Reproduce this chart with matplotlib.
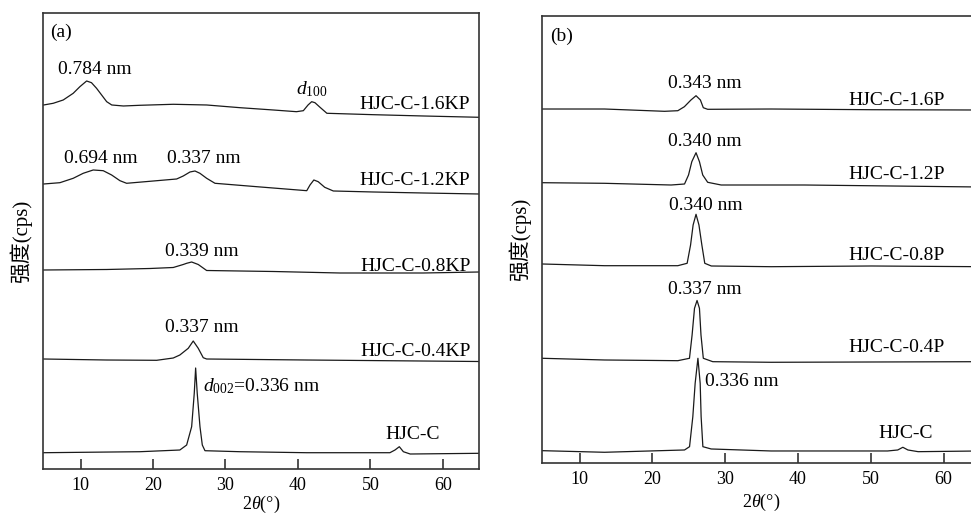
import matplotlib
matplotlib.use("Agg")
import matplotlib.pyplot as plt

# XRD patterns, intensity in arbitrary units (curves already stacked with offsets)

# panel (a)
a_16kp_x = [4.9, 6.22, 7.6, 8.98, 9.9, 10.83, 11.5, 12.2, 12.9, 13.6, 14.3, 15.9, 18.2, 22.8, 27.4, 32.0, 36.6,
            39.8, 40.75, 41.4, 41.9, 42.35, 43.05, 44.0, 50.4, 57.3, 65.0]
a_16kp_y = [364, 365.7, 369, 375.7, 382.3, 388, 386.3, 380.7, 374, 367.3, 364, 363, 363.7, 364.7, 364, 361.3, 359,
            357.3, 358.3, 364, 367.3, 366.3, 361.7, 355.7, 354.3, 353, 351.7]

a_12kp_x = [4.9, 7.14, 8.98, 10.36, 11.74, 13.12, 14.28, 15.43, 16.35, 19.57, 23.26, 24.17, 25.1, 25.79, 26.47,
            27.4, 28.55, 34.31, 41.22, 41.67, 42.2, 42.8, 43.7, 44.89, 50.41, 57.32, 65.0]
a_12kp_y = [285, 286.3, 290.7, 295.7, 299, 298.3, 294, 288.3, 285.7, 287.7, 290, 293, 297, 298, 295.7,
            290.7, 285.7, 282.3, 278.3, 284, 289, 287.3, 281.7, 278, 277, 276, 275]

a_08kp_x = [4.9, 13.6, 19.57, 22.79, 24.17, 24.64, 25.33, 26.24, 27.4, 36.6, 45.8, 57.3, 65.0]
a_08kp_y = [199, 199.5, 200.5, 201.5, 204.5, 205.7, 207, 204.5, 198.5, 197.5, 196, 196, 197]

a_04kp_x = [4.9, 13.6, 20.5, 22.79, 23.7, 24.86, 25.55, 26.24, 26.93, 27.4, 41.2, 65.0]
a_04kp_y = [110, 109, 108.7, 111, 114, 120.7, 128, 120.7, 111.3, 110, 109, 107.5]

a_c_x = [4.9, 18.19, 23.7, 24.64, 25.33, 25.69, 25.88, 26.1, 26.48, 26.8, 27.17, 32.0, 41.2, 52.7, 53.4, 54.0, 54.56, 55.5, 65.0]
a_c_y = [16.3, 17.3, 19, 24, 42.3, 75.7, 101, 75.7, 42.3, 24, 18.3, 17.3, 16.3, 16.3, 19, 22.3, 17.3, 15, 15.7]

# panel (b)
b_16p_x = [4.9, 13.43, 21.68, 23.5, 24.4, 25.3, 26.0, 26.6, 27.0, 27.6, 36.3, 50.1, 65.0]
b_16p_y = [353.7, 353.7, 351.4, 352, 356, 362.7, 367, 362.7, 355, 353.4, 353.7, 353, 352.7]

b_12p_x = [4.9, 13.43, 22.58, 24.42, 24.97, 25.42, 26.0, 26.47, 26.92, 27.6, 29.45, 40.9, 65.0]
b_12p_y = [280, 279.4, 277.7, 278.7, 287.7, 301, 310, 301, 287.7, 280.4, 277.7, 277.7, 275.7]

b_08p_x = [4.9, 13.43, 23.5, 24.78, 25.25, 25.6, 26.0, 26.4, 26.8, 27.2, 28.1, 36.3, 50.1, 65.0]
b_08p_y = [198.7, 197, 197, 199.4, 217.7, 237.7, 248.4, 237.7, 217.7, 199.4, 196.7, 196, 196.7, 196]

b_04p_x = [4.9, 13.43, 23.5, 25.1, 25.46, 25.79, 26.14, 26.47, 26.68, 27.0, 28.3, 36.3, 65.0]
b_04p_y = [104.4, 102.7, 102, 104.4, 127.7, 154.4, 162.2, 154.4, 127.7, 104.4, 101, 100.4, 101]

b_c_x = [4.9, 13.43, 24.42, 25.11, 25.56, 25.88, 26.26, 26.57, 26.7, 26.94, 28.08, 36.3, 52.3, 53.7, 54.4, 55.1, 56.5, 65.0]
b_c_y = [12, 10.4, 12.7, 16, 46, 79.4, 104.4, 79.4, 46, 16, 13.7, 11.7, 11.7, 12.7, 15.4, 12.7, 11, 11.7]

# sample names and their label heights
a_names = ["HJC-C-1.6KP", "HJC-C-1.2KP", "HJC-C-0.8KP", "HJC-C-0.4KP"]
a_name_y = [364, 288, 202.5, 118]
b_names = ["HJC-C-1.6P", "HJC-C-1.2P", "HJC-C-0.8P", "HJC-C-0.4P"]
b_name_y = [362.7, 288.7, 206.7, 114.7]

# peak labels: text, x, y
a_peaks = [("0.784 nm", 11.98, 399), ("0.694 nm", 12.8, 310), ("0.337 nm", 27.06, 310),
           ("0.339 nm", 26.8, 217), ("0.337 nm", 26.8, 142)]
b_peaks = [("0.343 nm", 27.14, 379.7), ("0.340 nm", 27.14, 321.7), ("0.340 nm", 27.28, 256.7),
           ("0.337 nm", 27.2, 173.2)]

xticks = [10, 20, 30, 40, 50, 60]

LINE = "#1a1a1a"
SERIF = "Liberation Serif"
FS = 14

plt.rcParams["font.family"] = [SERIF, "Noto Sans CJK SC"]
plt.rcParams["mathtext.fontset"] = "custom"
plt.rcParams["mathtext.rm"] = SERIF
plt.rcParams["mathtext.it"] = SERIF + ":italic"


def setup_axes(ax, ytop, xpad):
    ax.set_xlim(4.85, 65.0)
    ax.set_ylim(0, ytop)
    ax.set_xticks(xticks)
    ax.set_yticks([])
    ax.tick_params(axis="x", direction="in", length=7, width=1.2, color="#333333",
                   labelsize=13, pad=6)
    for sp in ax.spines.values():
        sp.set_linewidth(1.2)
        sp.set_color("#333333")
    ax.set_xlabel("2$\\it{\\theta}$(°)", fontsize=13, labelpad=xpad)
    ax.set_ylabel("强度(cps)", fontsize=15, family=[SERIF, "Noto Sans CJK SC"], labelpad=8)


def main():
    fig = plt.figure(figsize=(9.71, 5.15), dpi=100)
    ax_a = fig.add_axes([0.0446, 0.0893, 0.4487, 0.8855])
    ax_b = fig.add_axes([0.5582, 0.1016, 0.4511, 0.8673])

    # (a)
    for x, y in [(a_16kp_x, a_16kp_y), (a_12kp_x, a_12kp_y), (a_08kp_x, a_08kp_y),
                 (a_04kp_x, a_04kp_y), (a_c_x, a_c_y)]:
        ax_a.plot(x, y, color=LINE, lw=0.9)
    setup_axes(ax_a, 456, 0)
    ax_a.text(0.015, 0.958, "(a)", transform=ax_a.transAxes, fontsize=FS, va="center")
    for name, y in zip(a_names, a_name_y):
        ax_a.text(63.8, y, name, fontsize=FS, ha="right", va="center")
    for txt, x, y in a_peaks:
        ax_a.text(x, y, txt, fontsize=FS, ha="center", va="center")
    ax_a.text(41.9, 380, "$\\mathit{d}_{100}$", fontsize=FS, ha="center", va="center")
    ax_a.text(26.9, 83, "$\\mathit{d}_{002}$=0.336 nm", fontsize=FS, ha="left", va="center")
    ax_a.text(55.8, 35, "HJC-C", fontsize=FS, ha="center", va="center")

    # (b)
    for x, y in [(b_16p_x, b_16p_y), (b_12p_x, b_12p_y), (b_08p_x, b_08p_y),
                 (b_04p_x, b_04p_y), (b_c_x, b_c_y)]:
        ax_b.plot(x, y, color=LINE, lw=0.9)
    setup_axes(ax_b, 446.7, 3)
    ax_b.text(0.018, 0.955, "(b)", transform=ax_b.transAxes, fontsize=FS, va="center")
    for name, y in zip(b_names, b_name_y):
        ax_b.text(60.2, y, name, fontsize=FS, ha="right", va="center")
    for txt, x, y in b_peaks:
        ax_b.text(x, y, txt, fontsize=FS, ha="center", va="center")
    ax_b.text(27.17, 80.7, "0.336 nm", fontsize=FS, ha="left", va="center")
    ax_b.text(54.75, 28.7, "HJC-C", fontsize=FS, ha="center", va="center")

    fig.savefig("out.png", dpi=100)


if __name__ == "__main__":
    main()
